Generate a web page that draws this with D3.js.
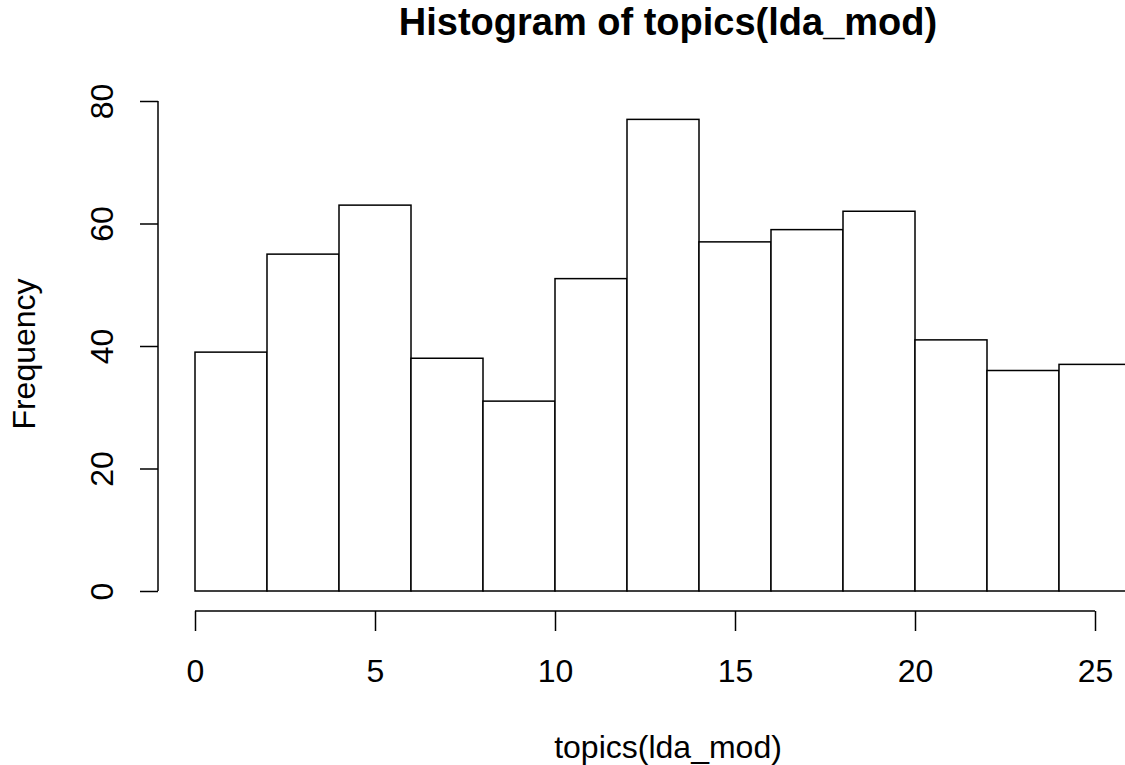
<!DOCTYPE html>
<html><head><meta charset="utf-8">
<script src="https://cdn.jsdelivr.net/npm/d3@7"></script>
<style>body{margin:0;background:#fff}svg{display:block}text{font-family:"Liberation Sans",Arial,sans-serif;fill:#000}</style>
</head><body>
<svg id="c" width="1125" height="765"></svg>
<script>
const binStarts = [0,2,4,6,8,10,12,14,16,18,20,22,24];
const binWidth = 2;
const counts = [39,55,63,38,31,51,77,57,59,62,41,36,37];
const xTicks = [0,5,10,15,20,25];
const yTicks = [0,20,40,60,80];
const title = "Histogram of topics(lda_mod)";
const xLabel = "topics(lda_mod)";
const yLabel = "Frequency";

const FONT = "Liberation Sans, Arial, sans-serif";
const svg = d3.select("#c");
const x = d3.scaleLinear().domain([0,25]).range([195,1095]);
const y = d3.scaleLinear().domain([0,80]).range([591,101]);

const g = svg.append("g");
g.selectAll("rect").data(counts).enter().append("rect")
  .attr("x", (d,i)=>x(binStarts[i]))
  .attr("width", (d,i)=>x(binStarts[i]+binWidth)-x(binStarts[i]))
  .attr("y", d=>y(d))
  .attr("height", d=>y(0)-y(d))
  .attr("fill","#fff").attr("stroke","#000").attr("stroke-width",1.5);

// x axis
const xa = svg.append("g").attr("transform","translate(0,611)")
  .call(d3.axisBottom(x).tickValues(xTicks).tickSize(20).tickSizeOuter(0));
xa.attr("font-size",null).attr("font-family",null);
xa.select(".domain").attr("stroke-width",1.5).attr("d",`M${x(0)},0H${x(25)}`);
xa.selectAll(".tick line").attr("stroke-width",1.5);
xa.selectAll(".tick text").attr("font-size",32).attr("font-family",FONT)
  .attr("y",71).attr("dy",null);

// y axis
const ya = svg.append("g").attr("transform","translate(158,0)")
  .call(d3.axisLeft(y).tickValues(yTicks).tickSize(18).tickSizeOuter(0));
ya.attr("font-size",null).attr("font-family",null);
ya.select(".domain").attr("stroke-width",1.5).attr("d",`M0,${y(0)}V${y(80)}`);
ya.selectAll(".tick line").attr("stroke-width",1.5);
ya.selectAll(".tick text").attr("font-size",32).attr("font-family",FONT)
  .attr("x",null).attr("dy",null)
  .attr("text-anchor","middle")
  .attr("transform","translate(-45,0) rotate(-90)");

svg.append("text").attr("x",668).attr("y",35).attr("text-anchor","middle")
  .attr("font-size",38).attr("font-weight","bold").text(title);
svg.append("text").attr("x",668).attr("y",758).attr("text-anchor","middle")
  .attr("font-size",32).text(xLabel);
svg.append("text").attr("transform","translate(35,354) rotate(-90)").attr("text-anchor","middle")
  .attr("font-size",32).text(yLabel);
</script>
</body></html>
